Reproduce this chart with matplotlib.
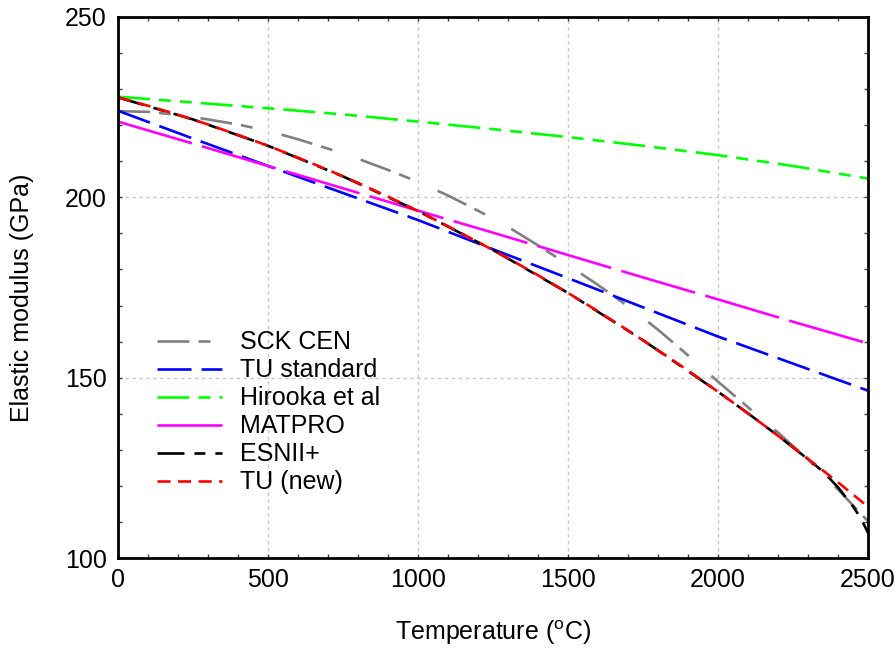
import matplotlib
matplotlib.use("Agg")
import matplotlib.pyplot as plt
from matplotlib.ticker import MultipleLocator

plt.rcParams['font.family'] = ['Liberation Sans', 'DejaVu Sans']
plt.rcParams['mathtext.fontset'] = 'custom'
plt.rcParams['mathtext.rm'] = 'Liberation Sans'
plt.rcParams['lines.scale_dashes'] = False

# ---- data ----
temp_100 = [0, 100, 200, 300, 400, 500, 600, 700, 800, 900, 1000, 1100, 1200,
            1300, 1400, 1500, 1600, 1700, 1800, 1900, 2000, 2100, 2200, 2300,
            2400, 2500]
sck_cen = [223.9, 223.7, 222.9, 221.6, 220.2, 218.4, 216.1, 213.5, 210.7, 207.6,
           204.3, 200.5, 196.3, 191.8, 186.7, 181.3, 175.7, 169.8, 163.3, 156.2,
           148.9, 141.8, 134.8, 127.3, 119.0, 110.2]
tu_new = [227.7, 225.4, 222.9, 220.2, 217.3, 214.3, 211.0, 207.6, 204.0, 200.2,
          196.2, 192.0, 187.6, 183.1, 178.4, 173.5, 168.4, 163.1, 157.6, 152.0,
          146.1, 140.1, 133.9, 127.5, 121.0, 114.2]

temp_250 = [0, 250, 500, 750, 1000, 1250, 1500, 1750, 2000, 2250, 2500]
tu_standard = [224.0, 216.3, 208.7, 201.2, 193.7, 185.6, 177.6, 169.5, 161.4, 153.9, 146.4]
hirooka = [227.9, 226.3, 224.7, 223.0, 221.0, 218.9, 216.7, 214.3, 211.7, 208.7, 205.2]
matpro = [221.0, 214.9, 208.7, 202.5, 196.3, 190.2, 184.0, 177.8, 171.7, 165.5, 159.5]

temp_esnii = [0, 250, 500, 750, 1000, 1250, 1500, 1750, 2000, 2100, 2200, 2300,
              2350, 2400, 2450, 2475, 2500]
esnii = [227.7, 221.6, 214.3, 205.8, 196.2, 185.4, 173.5, 160.4, 146.1, 140.1,
         133.9, 127.4, 124.0, 119.6, 114.3, 111.2, 107.0]

labels = ["SCK CEN", "TU standard", "Hirooka et al", "MATPRO", "ESNII+", "TU (new)"]

# ---- figure ----
fig = plt.figure(figsize=(8.96, 6.55), dpi=100)
ax = fig.add_axes([118/896, 1-558/655, 750/896, 541/655])

lw = 1.9
ax.plot(temp_100, sck_cen, color='#808080', lw=lw, dashes=[23, 6.5, 8.6, 21.6], label=labels[0])
ax.plot(temp_250, tu_standard, color='#0000FF', lw=lw, dashes=[24.5, 7.2], label=labels[1])
ax.plot(temp_250, hirooka, color='#00FF00', lw=lw, dashes=[23, 6.5, 8.6, 6.5, 8.6, 6.5], label=labels[2])
ax.plot(temp_250, matpro, color='#FF00FF', lw=lw, dashes=[55.4, 7.6], label=labels[3])
ax.plot(temp_esnii, esnii, color='black', lw=lw, dashes=[19.4, 7.2, 7.9, 7.2], label=labels[4])
ax.plot(temp_100, tu_new, color='#FF0000', lw=lw, dashes=[9.4, 5.4], label=labels[5])

ax.set_xlim(0, 2500)
ax.set_ylim(100, 250)
ax.set_xticks([0, 500, 1000, 1500, 2000, 2500])
ax.set_yticks([100, 150, 200, 250])
ax.xaxis.set_minor_locator(MultipleLocator(100))
ax.yaxis.set_minor_locator(MultipleLocator(10))
ax.tick_params(which='both', direction='in', top=True, right=True, width=1,
               color='#404040')
ax.tick_params(which='major', length=3, labelsize=18)
ax.tick_params(which='minor', length=3)
ax.tick_params(axis='x', which='major', pad=7.5)
ax.tick_params(axis='y', which='major', pad=8)

for s in ax.spines.values():
    s.set_linewidth(2)
    s.set_color('black')

ax.grid(True, which='major', color='#c8c8c8', lw=1, dashes=[2.5, 2.5])
ax.set_axisbelow(True)

ax.set_xlabel(r'Temperature ($^\mathregular{o}$C)', fontsize=18)
ax.set_ylabel('Elastic modulus (GPa)', fontsize=18)
ax.xaxis.set_label_coords(0.5, -0.111)
ax.yaxis.set_label_coords(-0.112, 0.4815)

ax.legend(loc='center left', bbox_to_anchor=(0.0516, 0.269), frameon=False,
          fontsize=18, handlelength=2.6, handletextpad=0.75, labelspacing=0.16,
          borderpad=0, borderaxespad=0)

fig.savefig('out.png', dpi=100)
